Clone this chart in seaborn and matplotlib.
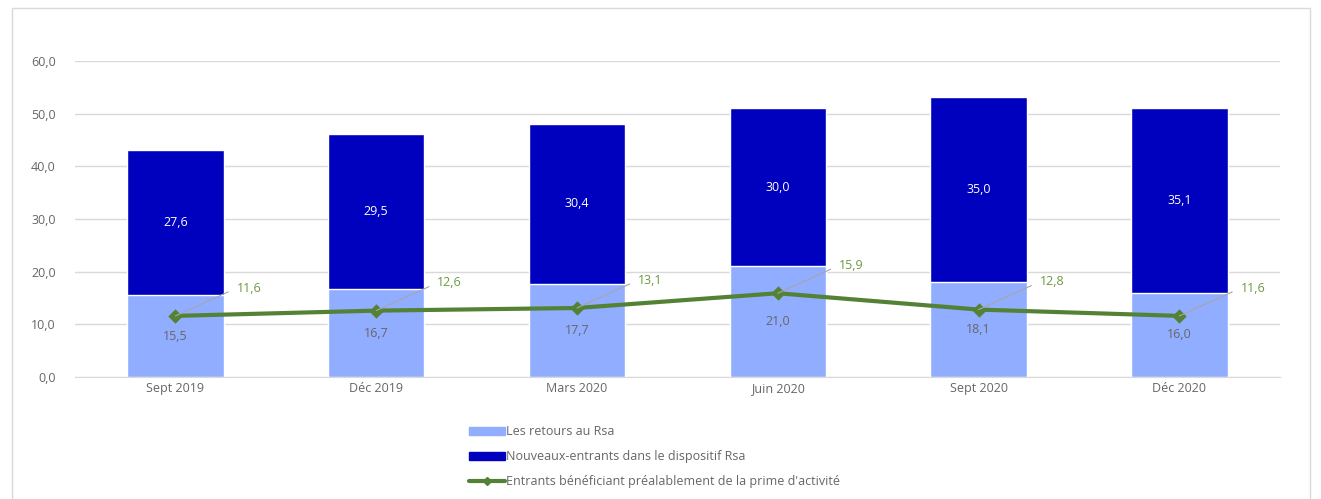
import numpy as np
import pandas as pd
import matplotlib
matplotlib.use('Agg')
import matplotlib.pyplot as plt
import seaborn as sns
from matplotlib.patches import Rectangle, Patch
from matplotlib.lines import Line2D

periods = ['Sept 2019', 'Déc 2019', 'Mars 2020', 'Juin 2020', 'Sept 2020', 'Déc 2020']
retours = [15.5, 16.7, 17.7, 21.0, 18.1, 16.0]
nouveaux = [27.6, 29.5, 30.4, 30.0, 35.0, 35.1]
prime = [11.6, 12.6, 13.1, 15.9, 12.8, 11.6]

light_blue = '#91adff'
dark_blue = '#0000bf'
green = '#548235'
text_gray = '#666666'

df = pd.DataFrame({'periode': periods, 'retours': retours, 'nouveaux': nouveaux, 'prime': prime})
df['total'] = df['retours'] + df['nouveaux']

sns.set_style('white')
plt.rcParams['font.family'] = ['Open Sans', 'DejaVu Sans']

fig = plt.figure(figsize=(13.21, 4.99), dpi=100)
ax = fig.add_axes([0.0568, 0.2445, 0.912, 0.6333])

# stacked bars: total first, then the lower part over it
sns.barplot(data=df, x='periode', y='total', color=dark_blue, width=0.48, saturation=1, ax=ax, zorder=2)
sns.barplot(data=df, x='periode', y='retours', color=light_blue, width=0.48, saturation=1, ax=ax, zorder=2)
sns.pointplot(data=df, x='periode', y='prime', color=green, markers='D', markersize=5,
              linewidth=3, ax=ax, zorder=3)

fmt = lambda v: f'{v:.1f}'.replace('.', ',')
for i in range(len(periods)):
    ax.text(i, retours[i] / 2, fmt(retours[i]), ha='center', va='center', color=text_gray, fontsize=9)
    ax.text(i, retours[i] + nouveaux[i] / 2, fmt(nouveaux[i]), ha='center', va='center', color='white', fontsize=9)
    ax.annotate(fmt(prime[i]), xy=(i, prime[i]), xytext=(44, 20), textcoords='offset points',
                ha='left', va='center', color='#6b9a3f', fontsize=9,
                arrowprops=dict(arrowstyle='-', color='#a6a6a6', lw=0.8, relpos=(0, 0.5),
                                shrinkA=4, shrinkB=0))

ax.set_ylim(0, 60)
ax.set_yticks(np.arange(0, 61, 10))
ax.set_yticklabels([fmt(v) for v in np.arange(0, 61, 10)])
ax.set_xlim(-0.5, len(periods) - 0.5)
ax.set_xlabel('')
ax.set_ylabel('')
ax.yaxis.grid(True, color='#d9d9d9', lw=1, zorder=0)
ax.set_axisbelow(True)
for s in ['top', 'right', 'left']:
    ax.spines[s].set_visible(False)
ax.spines['bottom'].set_color('#d9d9d9')
ax.tick_params(axis='both', length=0, colors=text_gray, labelsize=9)
ax.tick_params(axis='y', pad=14)

handles = [Patch(color=light_blue), Patch(color=dark_blue),
           Line2D([0], [0], color=green, lw=3, marker='D', markersize=4)]
labels = ['Les retours au Rsa', 'Nouveaux-entrants dans le dispositif Rsa',
          "Entrants bénéficiant préalablement de la prime d'activité"]
fig.legend(handles, labels, loc='upper left', bbox_to_anchor=(0.350, 0.160), frameon=False,
           fontsize=9, labelcolor=text_gray, handlelength=2.9, handleheight=0.6,
           handletextpad=0.1, labelspacing=0.95, borderpad=0)

fig.patches.append(Rectangle((12 / 1321, -0.01), 1298 / 1321, 1 - 8 / 499 + 0.01,
                             transform=fig.transFigure, fill=False, edgecolor='#d9d9d9', lw=1))

fig.savefig('out.png', dpi=100)
